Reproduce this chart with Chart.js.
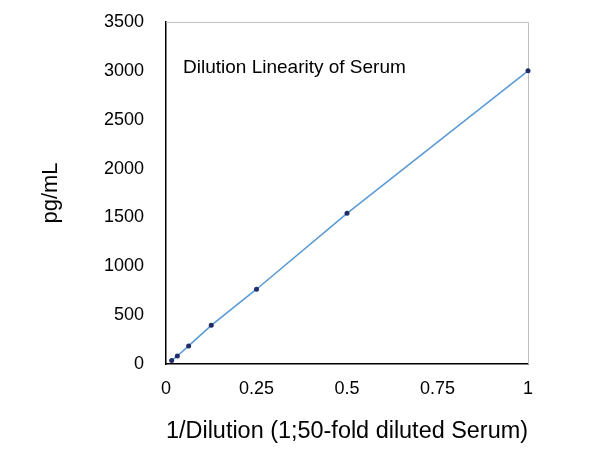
<!DOCTYPE html>
<html>
<head>
<meta charset="utf-8">
<script src="https://cdn.jsdelivr.net/npm/chart.js@4"></script>
<style>
  html, body { margin: 0; padding: 0; background: #fff; }
  #wrap { width: 600px; height: 450px; }
</style>
</head>
<body>
<div id="wrap"><canvas id="dilution_chart"></canvas></div>
<script>
// 1/dilution vs measured concentration
const dilution = [1 / 64, 1 / 32, 1 / 16, 1 / 8, 1 / 4, 1 / 2, 1];
const conc = [35, 82, 185, 396, 765, 1542, 3000];
const xTicks = [0, 0.25, 0.5, 0.75, 1];
const yTicks = [0, 500, 1000, 1500, 2000, 2500, 3000, 3500];

const FONT = "'Liberation Sans', Arial, sans-serif";

// gray frame on top/right + title inside the plot
const framePlugin = {
  id: "frame",
  beforeDatasetsDraw(chart) {
    const { ctx, chartArea: a } = chart;
    ctx.save();
    ctx.strokeStyle = "#bfbfbf";
    ctx.lineWidth = 1;
    ctx.beginPath();
    ctx.moveTo(a.left, a.top + 0.5);
    ctx.lineTo(a.right + 0.5, a.top + 0.5);
    ctx.lineTo(a.right + 0.5, a.bottom);
    ctx.stroke();
    ctx.restore();
  },
  afterDraw(chart) {
    const { ctx, chartArea: a } = chart;
    ctx.save();
    ctx.fillStyle = "#000";
    ctx.font = "19px " + FONT;
    ctx.textBaseline = "middle";
    ctx.fillText("Dilution Linearity of Serum", a.left + 17, 68);
    ctx.restore();
  }
};

const ctx = document.getElementById("dilution_chart");

new Chart(ctx, {
  type: "scatter",
  data: {
    datasets: [
      {
        data: dilution.map((d, i) => ({ x: d, y: conc[i] })),
        showLine: true,
        borderColor: "#5b9bd5",
        borderWidth: 1.6,
        pointBackgroundColor: "#1f2d6b",
        pointBorderColor: "#1f2d6b",
        pointRadius: 2.5,
        pointBorderWidth: 0,
        clip: false,
      },
    ],
  },
  options: {
    responsive: true,
    maintainAspectRatio: false,
    animation: false,
    layout: { padding: { top: 22, right: 72, left: 0, bottom: 0 } },
    plugins: {
      legend: { display: false },
      tooltip: { enabled: false },
    },
    scales: {
      x: {
        type: "linear",
        min: 0,
        max: 1,
        afterBuildTicks: (s) => { s.ticks = xTicks.map((v) => ({ value: v })); },
        afterFit: (s) => {
          s.height = 86;
          s.paddingLeft = 0;
          s.paddingRight = 0;
        },
        grid: { display: false, drawTicks: false },
        border: { color: "#000", width: 1.5 },
        ticks: {
          color: "#000",
          padding: 14,
          font: { family: FONT, size: 18 },
          callback: (v) => String(v),
        },
        title: {
          display: true,
          text: "1/Dilution (1;50-fold diluted Serum)",
          color: "#000",
          font: { family: FONT, size: 23.5 },
          padding: { top: 12 },
        },
      },
      y: {
        min: 0,
        max: 3500,
        afterBuildTicks: (s) => { s.ticks = yTicks.map((v) => ({ value: v })); },
        afterFit: (s) => {
          s.width = 166;
          s.paddingTop = 0;
          s.paddingBottom = 0;
        },
        grid: { display: false, drawTicks: false },
        border: { color: "#000", width: 1.5 },
        ticks: {
          color: "#000",
          padding: 22,
          font: { family: FONT, size: 18 },
          callback: (v) => String(v),
        },
        title: {
          display: true,
          text: "pg/mL",
          color: "#000",
          font: { family: FONT, size: 22 },
          padding: { top: 38, bottom: 0 },
        },
      },
    },
  },
  plugins: [framePlugin],
});
</script>
</body>
</html>
